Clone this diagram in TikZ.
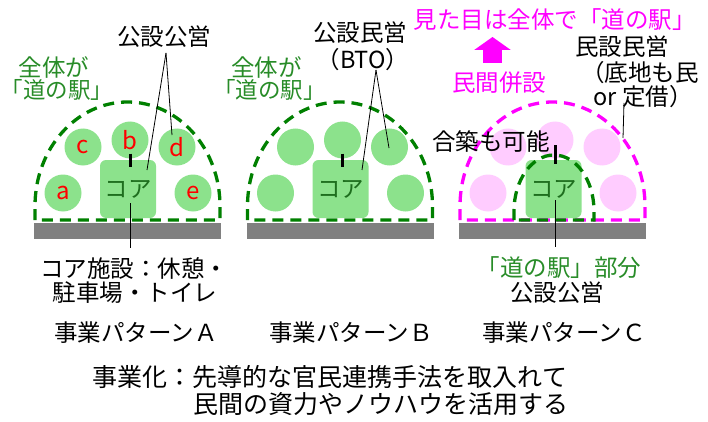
\documentclass[tikz,border=0pt]{standalone}
\usepackage{fontspec}
\setmainfont{Noto Sans CJK JP}
\usetikzlibrary{arrows.meta}

\definecolor{spotgreen}{RGB}{140,226,140}
\definecolor{domegreen}{RGB}{0,128,0}
\definecolor{textgreen}{RGB}{40,140,40}
\definecolor{coregreen}{RGB}{30,110,30}
\definecolor{spotpink}{RGB}{255,204,255}
\definecolor{domepink}{RGB}{255,0,255}
\definecolor{groundgray}{RGB}{128,128,128}

\tikzset{
  spot/.style={circle, fill=#1, minimum size=37pt, inner sep=0pt, text=red,
    font=\fontsize{24}{26}\selectfont},
  spot/.default=spotgreen,
  corebox/.style={rounded corners=6pt, fill=spotgreen, minimum width=56pt,
    minimum height=58pt, inner sep=0pt, text=coregreen,
    font=\fontsize{23.5}{26}\selectfont},
  domeline/.style={line width=3.3pt, dash pattern=on 11pt off 7pt},
  lbl/.style={font=\fontsize{23.5}{26}\selectfont, inner sep=0pt},
  bracketlbl/.style={font=\fontsize{22.5}{26}\selectfont, inner sep=0pt, text=textgreen},
  biglbl/.style={font=\fontsize{25}{28}\selectfont, inner sep=0pt},
  leader/.style={line width=0.8pt},
  tickline/.style={line width=3pt},
}

\begin{document}
\begin{tikzpicture}[x=1pt,y=1pt]
\useasboundingbox (0,0) rectangle (708,421);

\def\ga{182};
\def\gb{198};
\def\db{201};
\def\ds{215};

\foreach \ox in {0,212.5,425}
  \fill[groundgray] (34+\ox,\ga) rectangle (221+\ox,\gb);

\node[spot] (Aa) at (63,228) {a};
\node[spot] (Ab) at (130,281) {b};
\node[spot] (Ac) at (83,274) {c};
\node[spot] (Ad) at (177,274) {d};
\node[spot] (Ae) at (193,228) {e};

\foreach \p/\ox/\c in {B/212.5/spotgreen, C/425/spotpink}
  \foreach \n/\x/\y in {a/63/228, b/130/281, c/83/274, d/177/274, e/193/228}
    \node[spot=\c] (\p\n) at (\x+\ox,\y) {};

\draw[domeline, domegreen] (35,\db) -- (35,\ds)
  arc[start angle=180, end angle=0, x radius=92.5, y radius=104] -- (220,\db) -- cycle;
\draw[domeline, domegreen] (247.5,\db) -- (247.5,\ds)
  arc[start angle=180, end angle=0, x radius=92.5, y radius=104] -- (432.5,\db) -- cycle;
\draw[domeline, domepink] (460,\db) -- (460,\ds)
  arc[start angle=180, end angle=0, x radius=92.5, y radius=104] -- (645,\db) -- cycle;

\node[corebox] (Acore) at (128,232) {コア};
\node[corebox] (Bcore) at (340.5,232) {コア};
\node[corebox] (Ccore) at (553.5,232) {コア};

\draw[domeline, domegreen] (514,\db) -- (514,210)
  arc[start angle=180, end angle=0, x radius=40, y radius=56] -- (594,\db) -- cycle;

\draw[tickline] ([yshift=5pt]Ab.south) -- ([yshift=-7pt]Ab.south |- Acore.north);
\draw[tickline] ([yshift=5pt]Bb.south) -- ([yshift=-7pt]Bb.south |- Bcore.north);
\draw[tickline] ([yshift=13.5pt]Cb.south) -- ([yshift=-4pt]Cb.south |- Ccore.north);

% panel A
\node[lbl] (Aown) at (164,384) {公設公営};
\node[lbl, text=textgreen] (Aall) at (54,354) {全体が};
\node[bracketlbl] (Astation) at (57,331) {「道の駅」};
\node[lbl] (Anote) at (134,153) {コア施設：休憩・};
\node[lbl] (Anote2) at (135,128) {駐車場・トイレ};
\node[lbl] (Aname) at (136,88) {事業パターンＡ};

\coordinate (Afork) at (166,368);
\coordinate (Acoreend) at (147,251);
\coordinate (Adend) at (172,286);
\draw[leader] (Afork) -- (Acoreend);
\draw[leader] (Afork) -- (Adend);
\draw[leader] (130,218) -- (130,173);

% panel B
\node[lbl] (Bown) at (360,388) {公設民営};
\node[lbl] (Bbto) at (363,361) {（BTO）};
\node[lbl, text=textgreen] (Ball) at (266.5,354) {全体が};
\node[bracketlbl] (Bstation) at (269.5,331) {「道の駅」};
\node[lbl] (Bname) at (351,88) {事業パターンＢ};

\coordinate (Bfork) at (376,351);
\coordinate (Bcoreend) at (362,251);
\coordinate (Bdend) at (389,273);
\draw[leader] (Bfork) -- (Bcoreend);
\draw[leader] (Bfork) -- (Bdend);

% panel C
\node[lbl, text=domepink] (Clook) at (554.5,401) {見た目は全体で「道の駅」};
\node[lbl, text=domepink] (Cadd) at (499,338) {民間併設};
\node[lbl] (Cown) at (622,374) {民設民営};
\node[lbl] (Cland) at (640,348) {（底地も民};
\node[lbl] (Clease) at (643,324) {or 定借）};
\node[lbl] (Cjoint) at (491,279) {合築も可能};
\node[lbl, text=textgreen] (Cstation) at (559,153) {「道の駅」部分};
\node[lbl] (Cpublic) at (557,128) {公設公営};
\node[lbl] (Cname) at (564,88) {事業パターンＣ};

\coordinate (Carrowbase) at (492.5,358);
\coordinate (Carrowtip) at (492.5,384);
\draw[-{Triangle[width=36pt,length=13pt]}, line width=19pt, domepink]
  (Carrowbase) -- (Carrowtip);
\draw[leader] (624,318) -- (623,283);
\draw[leader] (555,221) -- (555,174);

% bottom
\node[biglbl] (sum1) at (330,44) {事業化：先導的な官民連携手法を取入れて};
\node[biglbl, anchor=west] (sum2) at (193,17) {民間の資力やノウハウを活用する};

\end{tikzpicture}
\end{document}
